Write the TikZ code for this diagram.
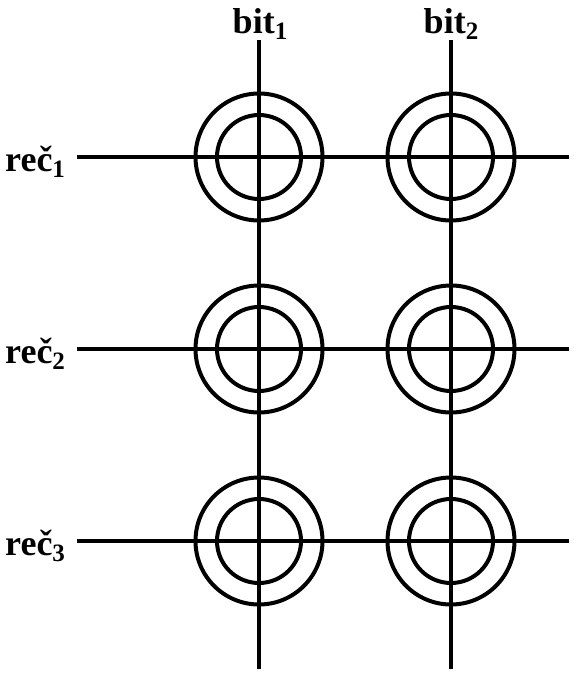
\documentclass[tikz,border=0pt]{standalone}
\usepackage{fontspec}
\setmainfont{Liberation Serif}
\newcommand{\lowidx}[1]{\raisebox{-6.5pt}{\fontsize{25}{27}\selectfont #1}}
\begin{document}
\begin{tikzpicture}[
    x=1pt, y=-1pt,
    cell/.style={draw, circle, line width=4pt, minimum size=127pt, inner sep=0pt},
    core/.style={draw, circle, line width=4pt, minimum size=84pt, inner sep=0pt},
    wire/.style={line width=3.6pt},
    lbl/.style={font=\fontsize{36}{38}\selectfont\bfseries, inner sep=0pt}
]
\useasboundingbox (0,0) rectangle (576,680);

% Outer and inner rings, row by row
\foreach \r/\yy in {1/157, 2/349, 3/541} {
  \foreach \c/\xx in {1/259, 2/451} {
    \node[cell] (cell\r\c) at (\xx,\yy) {};
    \node[core] (core\r\c) at (\xx,\yy) {};
  }
}

% Free ends of the lines
\coordinate (top1) at (259,40);
\coordinate (top2) at (451,40);
\coordinate (bot1) at (259,669);
\coordinate (bot2) at (451,669);
\coordinate (left1) at (77,157);
\coordinate (left2) at (77,349);
\coordinate (left3) at (77,541);
\coordinate (right1) at (569,157);
\coordinate (right2) at (569,349);
\coordinate (right3) at (569,541);

% Lines
\draw[wire] (top1) -- (bot1);
\draw[wire] (top2) -- (bot2);
\draw[wire] (left1) -- (right1);
\draw[wire] (left2) -- (right2);
\draw[wire] (left3) -- (right3);

% Labels
\node[lbl, anchor=base] (bit1) at (260,33) {bit\lowidx{1}};
\node[lbl, anchor=base] (bit2) at (451,33) {bit\lowidx{2}};
\node[lbl, anchor=base west] (rec1) at (5,171) {reč\lowidx{1}};
\node[lbl, anchor=base west] (rec2) at (5,363) {reč\lowidx{2}};
\node[lbl, anchor=base west] (rec3) at (5,555) {reč\lowidx{3}};
\end{tikzpicture}
\end{document}
